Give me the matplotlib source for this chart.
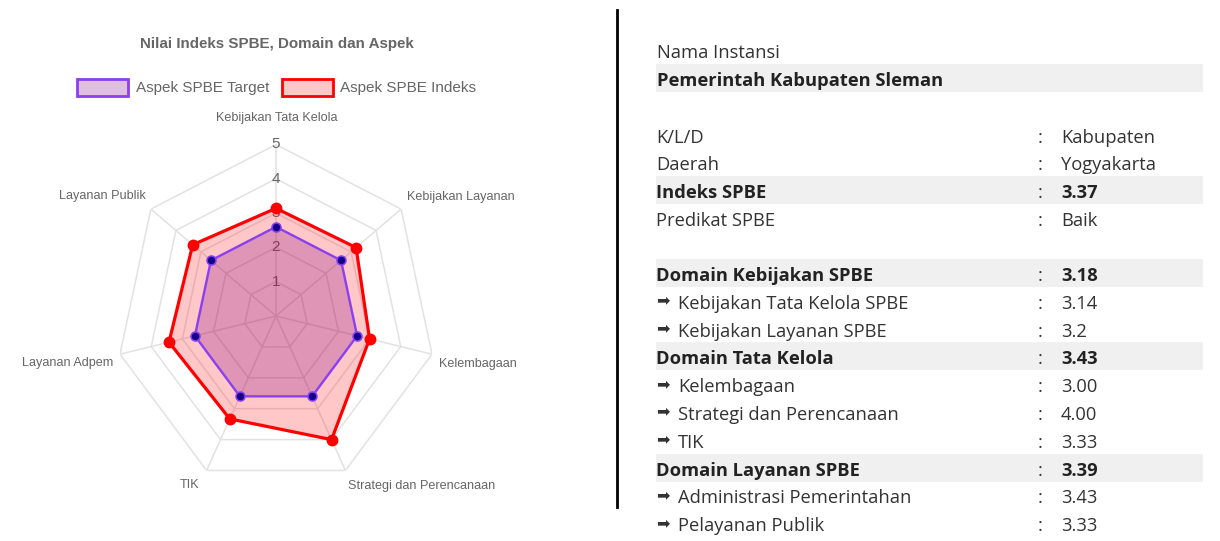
import numpy as np
import matplotlib.pyplot as plt
from matplotlib.patches import Rectangle

W, H = 1220, 541

# radar data
aspek = ['Kebijakan Tata Kelola', 'Kebijakan Layanan', 'Kelembagaan',
         'Strategi dan Perencanaan', 'TIK', 'Layanan Adpem', 'Layanan Publik']
target = [2.6, 2.6, 2.6, 2.6, 2.6, 2.6, 2.6]
indeks = [3.14, 3.2, 3.00, 4.00, 3.33, 3.43, 3.33]
skala = [1, 2, 3, 4, 5]

# info table data
nama_label = 'Nama Instansi'
nama_value = 'Pemerintah Kabupaten Sleman'
row_label = ['K/L/D', 'Daerah', 'Indeks SPBE', 'Predikat SPBE',
             'Domain Kebijakan SPBE', 'Kebijakan Tata Kelola SPBE', 'Kebijakan Layanan SPBE',
             'Domain Tata Kelola', 'Kelembagaan', 'Strategi dan Perencanaan', 'TIK',
             'Domain Layanan SPBE', 'Administrasi Pemerintahan', 'Pelayanan Publik']
row_value = ['Kabupaten', 'Yogyakarta', '3.37', 'Baik',
             '3.18', '3.14', '3.2',
             '3.43', '3.00', '4.00', '3.33',
             '3.39', '3.43', '3.33']
row_bold = [False, False, True, False,
            True, False, False,
            True, False, False, False,
            True, False, False]
row_sub = [False, False, False, False,
           False, True, True,
           False, True, True, True,
           False, True, True]


def fx(x):
    return x / W


def fy(y):
    return 1 - y / H


fig = plt.figure(figsize=(12.2, 5.41), dpi=100)
fig.patch.set_facecolor('white')

# ---- radar (center 276,316 ; r5 = 160 x 171.5 px)
cx, cy, rx, ry = 276, 316, 160, 171.5
ax = fig.add_axes([fx(cx - rx), fy(cy + ry), 2 * rx / W, 2 * ry / H], projection='polar')
ax.set_aspect('auto')
ax.set_theta_zero_location('N')
ax.set_theta_direction(-1)
ax.set_ylim(0, 5)
ax.grid(False)
ax.set_xticks([])
ax.set_yticks([])
ax.spines['polar'].set_visible(False)
ax.patch.set_alpha(0)

n = len(aspek)
theta = np.arange(n) * 2 * np.pi / n
tclose = np.append(theta, theta[0])

gc = '#e2e2e2'
for r in skala:
    ax.plot(tclose, [r] * (n + 1), color=gc, lw=1.1, zorder=1)
for t in theta:
    ax.plot([t, t], [0, 5], color=gc, lw=1.1, zorder=1)
for r in skala:
    ax.text(0, r, str(r), ha='center', va='center', fontsize=11, color='#666666',
            family='Liberation Sans', zorder=2)

ind = np.append(indeks, indeks[0])
tar = np.append(target, target[0])
ax.fill(tclose, ind, color=(1, 0, 0, 0.22), lw=0, zorder=3)
ax.plot(tclose, ind, color='#ff0000', lw=2.3, zorder=4)
ax.plot(theta, indeks, 'o', color='#ff0000', ms=7.5, mec='#ff0000', zorder=5)
ax.fill(tclose, tar, color=(0.5, 0, 0.5, 0.25), lw=0, zorder=6)
ax.plot(tclose, tar, color='#8a3ff0', lw=1.7, zorder=7)
ax.plot(theta, target, 'o', color='#12008c', ms=6.5, mec='#8a3ff0', mew=1.1, zorder=8)

# category labels (offsets in pixels from the outer vertex)
lab_off = [(1, 26, 'center'), (6, 12, 'left'), (7, -10, 'left'), (3, -15, 'left'),
           (-7, -14, 'right'), (-7, -9, 'right'), (-5, 13, 'right')]
for t, name, (dx, dy, ha) in zip(theta, aspek, lab_off):
    ax.annotate(name, xy=(t, 5), xytext=(dx, dy), textcoords='offset pixels',
                ha=ha, va='center', fontsize=9.1, color='#666666', family='Liberation Sans')

# title and legend
fig.text(fx(277), fy(44), 'Nilai Indeks SPBE, Domain dan Aspek', ha='center', va='center',
         fontsize=10.9, fontweight='bold', color='#666666', family='Liberation Sans')
fig.patches.append(Rectangle((fx(77), fy(96)), 51 / W, 17 / H, transform=fig.transFigure,
                             facecolor=(0.5, 0, 0.5, 0.25), edgecolor='#8a3ff0', lw=2))
fig.text(fx(136), fy(88), 'Aspek SPBE Target', ha='left', va='center', fontsize=11,
         color='#666666', family='Liberation Sans')
fig.patches.append(Rectangle((fx(282), fy(96)), 51 / W, 17 / H, transform=fig.transFigure,
                             facecolor=(1, 0, 0, 0.22), edgecolor='#ff0000', lw=2))
fig.text(fx(340), fy(88), 'Aspek SPBE Indeks', ha='left', va='center', fontsize=11,
         color='#666666', family='Liberation Sans')

# divider
fig.add_artist(plt.Line2D([fx(617), fx(617)], [fy(10), fy(507)], transform=fig.transFigure,
                          color='black', lw=2))

# ---- info table
band = '#f0f0f0'
x0, x1 = 656, 1203
fam = ['Open Sans', 'DejaVu Sans']
fs = 13.2
dy_txt = 3


def band_at(yc):
    fig.patches.append(Rectangle((fx(x0), fy(yc + 14)), (x1 - x0) / W, 28 / H,
                                 transform=fig.transFigure, facecolor=band, lw=0, zorder=0))


fig.text(fx(657), fy(50 + dy_txt), nama_label, ha='left', va='center', fontsize=fs,
         color='#333333', family=fam)
band_at(78)
fig.text(fx(657), fy(78 + dy_txt), nama_value, ha='left', va='center', fontsize=fs,
         fontweight='bold', color='#222222', family=fam)

row_y = [135, 162, 190, 218] + [273 + 27.8 * k for k in range(10)]
for y, lab, val, b, s in zip(row_y, row_label, row_value, row_bold, row_sub):
    if b:
        band_at(y)
    w = 'bold' if b else 'normal'
    c = '#222222' if b else '#333333'
    yt = y + dy_txt
    if s:
        fig.text(fx(656), fy(y), '\u27a1', ha='left', va='center', fontsize=11.5,
                 color=c, family=['DejaVu Sans'])
        fig.text(fx(678), fy(yt), lab, ha='left', va='center', fontsize=fs,
                 color=c, family=fam)
    else:
        fig.text(fx(656), fy(yt), lab, ha='left', va='center', fontsize=fs,
                 fontweight=w, color=c, family=fam)
    fig.text(fx(1040), fy(yt), ':', ha='center', va='center', fontsize=fs,
             color='#333333', family=fam)
    fig.text(fx(1061), fy(yt), val, ha='left', va='center', fontsize=fs,
             fontweight=w, color=c, family=fam)

fig.savefig('out.png', dpi=100, facecolor='white')
